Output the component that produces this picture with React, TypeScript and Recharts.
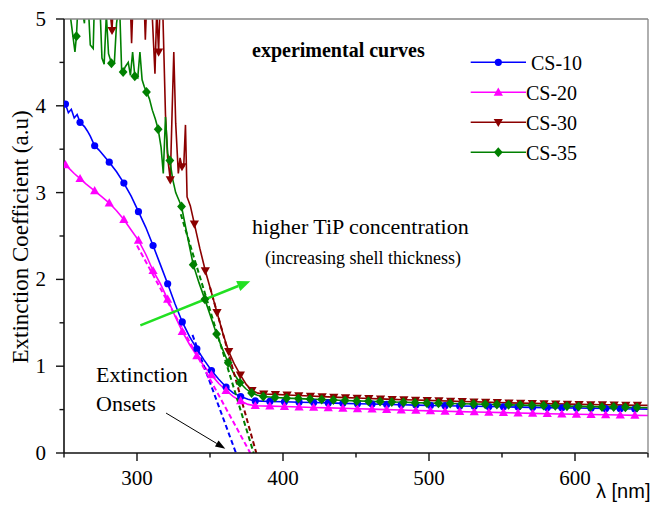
import React from "react";
import { LineChart, Line, XAxis, YAxis, ReferenceLine, Legend } from "recharts";

const SERIF = '"Liberation Serif", "Times New Roman", serif';
const SANS = '"Liberation Sans", Arial, sans-serif';
const INK = "#111111";
const EDGE = "#858585";

// rows: [λ (nm), extinction coefficient, marker shown?]
const CS10 = [
  [250, 4.04, 0], [251, 4.02, 1], [253, 3.92, 0], [255, 3.96, 0], [257, 3.86, 0], [259, 3.9, 0],
  [261, 3.81, 1], [264, 3.76, 0], [266, 3.71, 0], [268, 3.65, 0], [271, 3.54, 1], [274, 3.49, 0],
  [277, 3.43, 0], [281, 3.35, 1], [286, 3.24, 0], [291, 3.11, 1], [296, 2.96, 0], [301, 2.78, 1],
  [306, 2.6, 0], [311, 2.39, 1], [316, 2.17, 0], [321, 1.95, 1], [326, 1.72, 0], [331, 1.51, 1],
  [336, 1.34, 0], [341, 1.2, 1], [346, 1.07, 0], [351, 0.95, 1], [356, 0.85, 0], [361, 0.76, 1],
  [366, 0.69, 0], [371, 0.65, 1], [376, 0.62, 0], [381, 0.6, 1], [391, 0.594, 1], [401, 0.59, 1],
  [411, 0.585, 1], [421, 0.581, 1], [431, 0.577, 1], [441, 0.572, 1], [451, 0.568, 1], [461, 0.564, 1],
  [471, 0.56, 1], [481, 0.556, 1], [491, 0.552, 1], [501, 0.548, 1], [511, 0.545, 1], [521, 0.541, 1],
  [531, 0.538, 1], [541, 0.535, 1], [551, 0.532, 1], [561, 0.529, 1], [571, 0.526, 1], [581, 0.523, 1],
  [591, 0.52, 1], [601, 0.518, 1], [611, 0.515, 1], [621, 0.512, 1], [631, 0.51, 1], [641, 0.507, 1],
  [650, 0.505, 0],
];

const CS20 = [
  [250, 3.34, 0], [251, 3.32, 1], [254, 3.27, 0], [257, 3.22, 0], [261, 3.16, 1], [265, 3.1, 0],
  [268, 3.06, 0], [271, 3.02, 1], [276, 2.95, 0], [281, 2.88, 1], [286, 2.79, 0], [291, 2.69, 1],
  [296, 2.57, 0], [301, 2.45, 1], [306, 2.29, 0], [311, 2.1, 1], [316, 1.95, 0], [321, 1.77, 1],
  [326, 1.58, 0], [331, 1.4, 1], [336, 1.25, 0], [341, 1.12, 1], [346, 1.0, 0], [351, 0.9, 1],
  [356, 0.8, 0], [361, 0.72, 1], [366, 0.65, 0], [371, 0.6, 1], [376, 0.56, 0], [381, 0.545, 1],
  [391, 0.54, 1], [401, 0.535, 1], [411, 0.53, 1], [421, 0.525, 1], [431, 0.52, 1], [441, 0.515, 1],
  [451, 0.51, 1], [461, 0.505, 1], [471, 0.5, 1], [481, 0.495, 1], [491, 0.49, 1], [501, 0.485, 1],
  [511, 0.481, 1], [521, 0.477, 1], [531, 0.473, 1], [541, 0.469, 1], [551, 0.465, 1], [561, 0.461, 1],
  [571, 0.457, 1], [581, 0.453, 1], [591, 0.449, 1], [601, 0.446, 1], [611, 0.443, 1], [621, 0.44, 1],
  [631, 0.437, 1], [641, 0.434, 1], [650, 0.432, 0],
];

const CS30 = [
  [250, 5.6, 0], [270, 5.6, 0], [280, 5.5, 0], [281.5, 5.1, 0], [282.9, 4.87, 1], [284, 5.3, 0],
  [290.9, 5.5, 1], [295, 5.4, 0], [296.3, 4.72, 0], [297.5, 5.3, 0], [298.9, 5.5, 1], [304.5, 5.4, 0],
  [305.7, 4.76, 0], [306.9, 5.3, 1], [310, 5.2, 0], [312.3, 4.37, 0], [313.5, 5.1, 0], [314.8, 4.62, 1],
  [316, 5.3, 0], [317.5, 5.2, 0], [319.5, 3.9, 0], [321, 3.4, 0], [322.8, 3.15, 1], [324, 3.9, 0],
  [325.2, 4.62, 0], [326.5, 3.8, 0], [328.3, 3.22, 0], [329.5, 3.4, 0], [330.8, 3.3, 1], [332, 3.3, 0],
  [333.2, 3.78, 0], [334.3, 2.95, 0], [336.5, 2.85, 0], [339.3, 2.64, 1], [343, 2.36, 0], [346.8, 2.1, 1],
  [350.8, 1.86, 0], [354.8, 1.62, 1], [358.8, 1.38, 0], [362.8, 1.17, 1], [366.8, 1.02, 0], [370.8, 0.9, 1],
  [374.8, 0.79, 0], [378.8, 0.72, 1], [382.8, 0.69, 0], [386.8, 0.68, 1], [394.8, 0.675, 1], [402.8, 0.668, 1],
  [410.8, 0.662, 1], [418.8, 0.656, 1], [426.8, 0.65, 1], [434.8, 0.644, 1], [442.8, 0.638, 1], [450.8, 0.633, 1],
  [458.8, 0.628, 1], [466.8, 0.623, 1], [474.8, 0.618, 1], [482.8, 0.614, 1], [490.8, 0.61, 1], [498.8, 0.606, 1],
  [506.8, 0.602, 1], [514.8, 0.598, 1], [522.8, 0.594, 1], [530.8, 0.59, 1], [538.8, 0.586, 1], [546.8, 0.582, 1],
  [554.8, 0.578, 1], [562.8, 0.575, 1], [570.8, 0.572, 1], [578.8, 0.569, 1], [586.8, 0.566, 1], [594.8, 0.563, 1],
  [602.8, 0.56, 1], [610.8, 0.558, 1], [618.8, 0.556, 1], [626.8, 0.554, 1], [634.8, 0.552, 1], [642.8, 0.55, 1],
  [650, 0.549, 0],
];

const CS35 = [
  [250, 5.4, 0], [253, 5.2, 0], [255, 4.95, 0], [257.5, 4.62, 0], [258.5, 4.8, 1], [260, 5.3, 0],
  [262, 5.15, 0], [264, 4.95, 0], [265, 5.4, 0], [266.5, 5.2, 1], [268, 4.7, 0], [270, 4.66, 0],
  [271, 5.3, 0], [273, 5.1, 0], [274.5, 5.2, 1], [276, 4.55, 0], [277.5, 4.48, 0], [279, 5.05, 0],
  [280.5, 4.6, 0], [282.5, 4.49, 1], [284.5, 4.5, 0], [286, 4.95, 0], [288, 5.2, 0], [289.5, 4.4, 0],
  [290.5, 4.39, 1], [292, 4.45, 0], [294, 4.5, 0], [295.5, 4.35, 0], [297, 4.62, 0], [298.5, 4.34, 1],
  [300.5, 4.32, 0], [302, 4.62, 0], [303.5, 4.3, 0], [305, 4.22, 0], [306.5, 4.16, 1], [308.5, 4.08, 0],
  [310.5, 3.95, 0], [312.5, 3.85, 0], [314.5, 3.73, 1], [316.5, 3.52, 0], [318, 3.22, 0], [319.5, 3.87, 0],
  [321, 3.45, 0], [322.5, 3.37, 1], [324.5, 3.15, 0], [326.5, 3.0, 0], [328.5, 2.92, 0], [330.5, 2.84, 1],
  [334.5, 2.5, 0], [338.5, 2.17, 1], [342.5, 1.96, 0], [346.5, 1.77, 1], [350.5, 1.57, 0], [354.5, 1.37, 1],
  [358.5, 1.2, 0], [362.5, 1.04, 1], [366.5, 0.91, 0], [370.5, 0.81, 1], [374.5, 0.74, 0], [378.5, 0.69, 1],
  [382.5, 0.665, 0], [386.5, 0.65, 1], [394.5, 0.64, 1], [402.5, 0.632, 1], [410.5, 0.627, 1], [418.5, 0.621, 1],
  [426.5, 0.616, 1], [434.5, 0.61, 1], [442.5, 0.605, 1], [450.5, 0.6, 1], [458.5, 0.596, 1], [466.5, 0.592, 1],
  [474.5, 0.588, 1], [482.5, 0.584, 1], [490.5, 0.58, 1], [498.5, 0.576, 1], [506.5, 0.573, 1], [514.5, 0.57, 1],
  [522.5, 0.567, 1], [530.5, 0.564, 1], [538.5, 0.561, 1], [546.5, 0.558, 1], [554.5, 0.555, 1], [562.5, 0.552, 1],
  [570.5, 0.549, 1], [578.5, 0.546, 1], [586.5, 0.543, 1], [594.5, 0.54, 1], [602.5, 0.537, 1], [610.5, 0.534, 1],
  [618.5, 0.531, 1], [626.5, 0.529, 1], [634.5, 0.526, 1], [642.5, 0.524, 1], [650, 0.522, 0],
];

// linear fits to the absorption edge (extinction onsets), dashed
const FIT10 = [[338, 1.36], [367.8, 0]];
const FIT20 = [[300, 2.39], [377.6, 0]];
const FIT30 = [[350, 1.91], [381.7, 0]];
const FIT35 = [[330, 2.75], [379.9, 0]];

// annotation arrows: [start, end] in data units
const TREND_ARROW = [[302.3, 1.47], [377.6, 1.98]];
const ONSET_ARROW = [[319.9, 0.46], [360.5, 0.05]];

const X_TICKS = [250, 300, 350, 400, 450, 500, 550, 600, 650];
const X_LABELS = [300, 400, 500, 600];
const Y_TICKS = [0, 0.5, 1, 1.5, 2, 2.5, 3, 3.5, 4, 4.5, 5];
const Y_LABELS = [0, 1, 2, 3, 4, 5];
const X_DOMAIN = [250, 650];
const Y_DOMAIN = [0, 5];

const SERIES = [
  { name: "CS-10", color: "#0000ff", marker: "circle", rows: CS10, fit: FIT10 },
  { name: "CS-20", color: "#ff00ff", marker: "up", rows: CS20, fit: FIT20 },
  { name: "CS-30", color: "#8b0000", marker: "down", rows: CS30, fit: FIT30 },
  { name: "CS-35", color: "#008000", marker: "diamond", rows: CS35, fit: FIT35 },
];

const toPts = (rows: number[][]) => rows.map(([x, y, m]) => ({ x, y, m: !!m }));

function Marker({ cx, cy, kind, color }: any) {
  if (kind === "circle") return <circle cx={cx} cy={cy} r={3.6} fill={color} />;
  let d = "";
  if (kind === "up") d = `M${cx},${cy - 4.8}L${cx + 4.6},${cy + 3.4}L${cx - 4.6},${cy + 3.4}Z`;
  else if (kind === "down") d = `M${cx},${cy + 4.8}L${cx + 4.6},${cy - 3.4}L${cx - 4.6},${cy - 3.4}Z`;
  else d = `M${cx},${cy - 5}L${cx + 4.4},${cy}L${cx},${cy + 5}L${cx - 4.4},${cy}Z`;
  return <path d={d} fill={color} />;
}

const dotFor = (kind: string, color: string) => (p: any) =>
  p.payload?.m ? (
    <Marker key={`m${p.index}`} cx={p.cx} cy={p.cy} kind={kind} color={color} />
  ) : (
    <g key={`m${p.index}`} />
  );

// ticks: long + labelled on the majors, short on the minors
function XTick({ x, y, payload }: any) {
  const major = X_LABELS.includes(payload.value);
  return (
    <g>
      <line x1={x} x2={x} y1={y} y2={y + (major ? 8 : 4.5)} stroke={INK} strokeWidth={1.4} />
      {major && (
        <text x={x} y={y + 32} textAnchor="middle" fontSize={21} fontFamily={SERIF} fill="#000">
          {payload.value}
        </text>
      )}
    </g>
  );
}

function YTick({ x, y, payload }: any) {
  const major = Y_LABELS.includes(payload.value);
  return (
    <g>
      <line x1={x - (major ? 8 : 4.5)} x2={x} y1={y} y2={y} stroke={INK} strokeWidth={1.4} />
      {major && (
        <text x={x - 18} y={y + 7} textAnchor="end" fontSize={21} fontFamily={SERIF} fill="#000">
          {payload.value}
        </text>
      )}
    </g>
  );
}

const arrowShape = (color: string, width: number, len: number, half: number) => (p: any) => {
  const { x1, y1, x2, y2 } = p;
  const a = Math.atan2(y2 - y1, x2 - x1);
  const bx = x2 - len * Math.cos(a);
  const by = y2 - len * Math.sin(a);
  const nx = -Math.sin(a) * half;
  const ny = Math.cos(a) * half;
  return (
    <g>
      <line x1={x1} y1={y1} x2={bx} y2={by} stroke={color} strokeWidth={width} />
      <path d={`M${x2},${y2}L${bx + nx},${by + ny}L${bx - nx},${by - ny}Z`} fill={color} />
    </g>
  );
};

function LegendBox() {
  return (
    <svg width={150} height={130} style={{ overflow: "visible" }}>
      {SERIES.map((s, i) => {
        const y = 22.3 + i * 30;
        return (
          <g key={s.name}>
            <line x1={8.7} x2={64} y1={y} y2={y} stroke={s.color} strokeWidth={1.6} />
            <Marker cx={36.3} cy={y} kind={s.marker} color={s.color} />
            <text x={i === 0 ? 69 : 64} y={y + 7.5} fontSize={20} fontFamily={SERIF} fill="#000">
              {s.name}
            </text>
          </g>
        );
      })}
    </svg>
  );
}

export default function App() {
  return (
    <div style={{ position: "absolute", left: 0, top: 0, width: 654, height: 505, background: "#fff" }}>
      <LineChart width={654} height={505} margin={{ top: 18, right: 5, bottom: 51, left: 63 }}>
        <XAxis
          type="number"
          dataKey="x"
          domain={X_DOMAIN}
          ticks={X_TICKS}
          interval={0}
          allowDataOverflow
          height={1}
          tickSize={0}
          tickMargin={0}
          tickLine={false}
          tick={<XTick />}
          axisLine={{ stroke: INK, strokeWidth: 1.6 }}
        />
        <XAxis
          xAxisId="top"
          orientation="top"
          type="number"
          domain={X_DOMAIN}
          height={1}
          tick={false}
          tickLine={false}
          axisLine={{ stroke: EDGE, strokeWidth: 1.3 }}
        />
        <YAxis
          type="number"
          dataKey="y"
          domain={Y_DOMAIN}
          ticks={Y_TICKS}
          interval={0}
          allowDataOverflow
          width={1}
          tickSize={0}
          tickMargin={0}
          tickLine={false}
          tick={<YTick />}
          axisLine={{ stroke: INK, strokeWidth: 1.6 }}
        />
        <YAxis
          yAxisId="right"
          orientation="right"
          type="number"
          domain={Y_DOMAIN}
          width={1}
          tick={false}
          tickLine={false}
          axisLine={{ stroke: EDGE, strokeWidth: 1.3 }}
        />

        {SERIES.map((s) => (
          <Line
            key={s.name}
            name={s.name}
            data={toPts(s.rows)}
            dataKey="y"
            type="linear"
            stroke={s.color}
            strokeWidth={1.6}
            dot={dotFor(s.marker, s.color)}
            activeDot={false}
            isAnimationActive={false}
          />
        ))}
        {SERIES.map((s) => (
          <Line
            key={`fit-${s.name}`}
            data={s.fit.map(([x, y]) => ({ x, y }))}
            dataKey="y"
            type="linear"
            stroke={s.color}
            strokeWidth={2}
            strokeDasharray="5 3"
            dot={false}
            activeDot={false}
            legendType="none"
            isAnimationActive={false}
          />
        ))}

        <ReferenceLine
          segment={TREND_ARROW.map(([x, y]) => ({ x, y }))}
          shape={arrowShape("#22e022", 2.5, 13, 5.5)}
        />
        <ReferenceLine
          segment={ONSET_ARROW.map(([x, y]) => ({ x, y }))}
          shape={arrowShape("#000", 1, 10, 3.5)}
        />

        <Legend
          layout="vertical"
          align="center"
          verticalAlign="middle"
          content={<LegendBox />}
          wrapperStyle={{ position: "absolute", left: 462, top: 40, width: 150, height: 130 }}
        />

        <text x={252} y={57} fontSize={20} fontWeight="bold" fontFamily={SERIF} fill="#000">
          experimental curves
        </text>
        <text x={252} y={234} fontSize={22} fontFamily={SERIF} fill="#000">
          higher TiP concentration
        </text>
        <text x={265} y={264} fontSize={18} fontFamily={SERIF} fill="#000">
          (increasing shell thickness)
        </text>
        <text x={96} y={382} fontSize={22} fontFamily={SERIF} fill="#000">
          Extinction
        </text>
        <text x={96} y={411} fontSize={22} fontFamily={SERIF} fill="#000">
          Onsets
        </text>
        <text x={596} y={498} fontSize={20} fontFamily={SANS} fill="#000">
          λ [nm]
        </text>
        <text
          x={20}
          y={237}
          transform="rotate(-90 20 237)"
          textAnchor="middle"
          dominantBaseline="central"
          fontSize={23}
          fontFamily={SERIF}
          fill="#000"
        >
          Extinction Coefficient (a.u)
        </text>
      </LineChart>
    </div>
  );
}
